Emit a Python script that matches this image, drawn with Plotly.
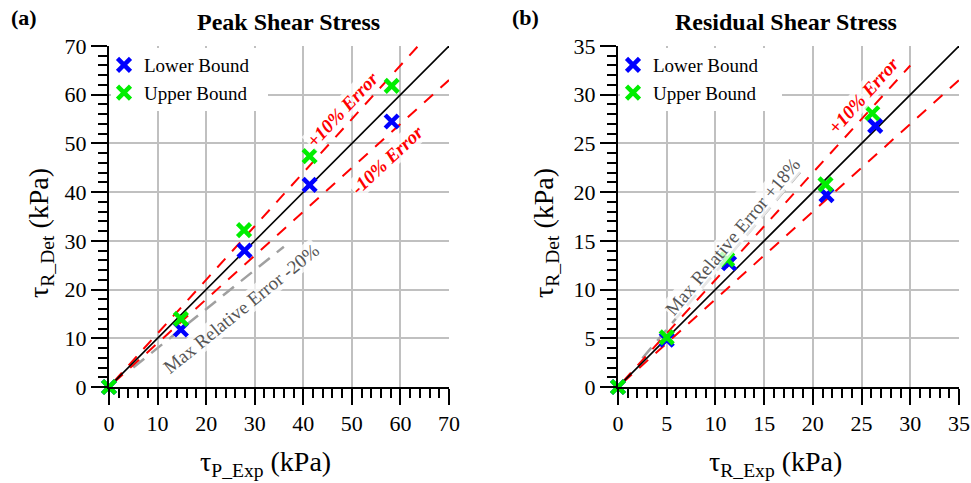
import plotly.graph_objects as go

# Peak shear stress (kPa): experimental vs determined
peak_exp_lower = [0, 14.8, 27.9, 41.3, 58.2]
peak_det_lower = [0, 11.8, 28.0, 41.5, 54.5]
peak_exp_upper = [0, 14.8, 27.8, 41.3, 58.2]
peak_det_upper = [0, 14.0, 32.2, 47.4, 61.8]

# Residual shear stress (kPa): experimental vs determined
res_exp_lower = [0, 5.0, 11.4, 21.4, 26.4]
res_det_lower = [0, 4.85, 12.7, 19.7, 26.8]
res_exp_upper = [0, 5.0, 11.2, 21.3, 26.1]
res_det_upper = [0, 5.1, 13.1, 20.8, 28.1]

# Reference lines: (slope, x start, x end)
peak_lines = {"one": (1.0, 0, 70), "plus10": (1.1, 1, 63.6), "minus10": (0.9, 1, 70), "maxerr": (0.8, 5, 36)}
res_lines = {"one": (1.0, 0, 35), "plus10": (1.1, 0.5, 30), "minus10": (0.9, 0.5, 35), "maxerr": (1.18, 2.5, 19)}

SERIF = "Liberation Serif"
BLUE = "#0000ff"
GREEN = "#00ee00"

W, H = 971, 483
LEFT_A, RIGHT_A, LEFT_B, RIGHT_B = 109, 449, 618, 959
TOP, BOTTOM = 46, 387
MAJOR_LEN, MINOR_LEN = 16, 9

fig = go.Figure()


def add_panel(xa, ya, lines, lower, upper, legend_name):
    styles = {
        "maxerr": dict(color="#a0a0a0", width=2.5, dash="14px,9px"),
        "plus10": dict(color="#ff0000", width=2, dash="12px,10px"),
        "minus10": dict(color="#ff0000", width=2, dash="12px,10px"),
        "one": dict(color="black", width=1.6),
    }
    for key in ["maxerr", "plus10", "minus10", "one"]:
        s, x0, x1 = lines[key]
        fig.add_trace(go.Scatter(x=[x0, x1], y=[s * x0, s * x1], mode="lines",
                                 line=styles[key], showlegend=False, hoverinfo="skip",
                                 xaxis=xa, yaxis=ya))
    for (xs, ys), name, col in [(lower, "Lower Bound", BLUE), (upper, "Upper Bound", GREEN)]:
        fig.add_trace(go.Scatter(x=xs, y=ys, mode="markers", name=name,
                                 marker=dict(symbol="x-thin", size=13,
                                             line=dict(color=col, width=4.5)),
                                 cliponaxis=False, showlegend=True, legend=legend_name,
                                 xaxis=xa, yaxis=ya))


add_panel("x", "y", peak_lines, (peak_exp_lower, peak_det_lower), (peak_exp_upper, peak_det_upper), "legend")
add_panel("x2", "y2", res_lines, (res_exp_lower, res_det_lower), (res_exp_upper, res_det_upper), "legend2")


def px_x(p):
    return p / W


def px_y(p):
    return 1 - p / H


def axis(domain, rng, dt, mdt, anchor):
    return dict(
        domain=domain, range=rng, dtick=dt, tick0=0, anchor=anchor,
        automargin=False, fixedrange=True,
        showline=True, linecolor="black", linewidth=2,
        ticks="outside", ticklen=MAJOR_LEN, tickwidth=2, tickcolor="black",
        showgrid=True, gridcolor="#c0c0c0", gridwidth=2,
        zeroline=False, tickfont=dict(family=SERIF, size=22, color="black"),
        minor=dict(dtick=mdt, tick0=0, ticks="outside", ticklen=MINOR_LEN, tickwidth=2,
                   tickcolor="black", showgrid=False),
    )


fig.update_layout(
    width=W, height=H,
    margin=dict(l=0, r=0, t=0, b=0, pad=0, autoexpand=False),
    paper_bgcolor="white", plot_bgcolor="white",
    font=dict(family=SERIF, color="black"),
    dragmode=False,
    xaxis=axis([px_x(LEFT_A), px_x(RIGHT_A)], [0, 70], 10, 2, "y"),
    yaxis=axis([px_y(BOTTOM), px_y(TOP)], [0, 70], 10, 2, "x"),
    xaxis2=axis([px_x(LEFT_B), px_x(RIGHT_B)], [0, 35], 5, 1, "y2"),
    yaxis2=axis([px_y(BOTTOM), px_y(TOP)], [0, 35], 5, 1, "x2"),
    legend=dict(x=px_x(104), y=px_y(46), xanchor="left", yanchor="top",
                bgcolor="rgba(0,0,0,0)", font=dict(family=SERIF, size=19, color="black"),
                tracegroupgap=0, itemwidth=30),
    legend2=dict(x=px_x(613), y=px_y(46), xanchor="left", yanchor="top",
                 bgcolor="rgba(0,0,0,0)", font=dict(family=SERIF, size=19, color="black"),
                 tracegroupgap=0, itemwidth=30),
)

# White backing behind each legend so gridlines do not run through it
for x0, x1 in [(111, 268), (620, 782)]:
    fig.add_shape(type="rect", xref="paper", yref="paper",
                  x0=px_x(x0), x1=px_x(x1), y0=px_y(111), y1=px_y(48),
                  fillcolor="white", line=dict(width=0), layer="above")

ann = []
# Panel labels and titles
ann.append(dict(text="<b>(a)</b>", x=px_x(9), y=px_y(18), xanchor="left", yanchor="middle",
                font=dict(size=22)))
ann.append(dict(text="<b>(b)</b>", x=px_x(510), y=px_y(18), xanchor="left", yanchor="middle",
                font=dict(size=22)))
ann.append(dict(text="<b>Peak Shear Stress</b>", x=px_x(288), y=px_y(22), xanchor="center", yanchor="middle",
                font=dict(size=24)))
ann.append(dict(text="<b>Residual Shear Stress</b>", x=px_x(786), y=px_y(22), xanchor="center", yanchor="middle",
                font=dict(size=24)))
# Axis titles
ann.append(dict(text="τ<sub>P_Exp</sub> (kPa)", x=px_x(265), y=px_y(463), xanchor="center", yanchor="middle",
                font=dict(size=28)))
ann.append(dict(text="τ<sub>R_Exp</sub> (kPa)", x=px_x(775), y=px_y(463), xanchor="center", yanchor="middle",
                font=dict(size=28)))
ann.append(dict(text="τ<sub>R_Det</sub> (kPa)", x=px_x(40), y=px_y(233), xanchor="center", yanchor="middle",
                textangle=-90, font=dict(size=28)))
ann.append(dict(text="τ<sub>R_Det</sub> (kPa)", x=px_x(545), y=px_y(233), xanchor="center", yanchor="middle",
                textangle=-90, font=dict(size=28)))
for a in ann:
    a.update(xref="paper", yref="paper", showarrow=False)
    a["font"].update(family=SERIF, color="black")

# Line labels placed in data coordinates
line_labels = [
    ("x", "y", 48.1, 56.9, "<b><i>+10% Error</i></b>", "#ff0000", -47),
    ("x", "y", 57.4, 46.6, "<b><i>-10% Error</i></b>", "#ff0000", -43),
    ("x", "y", 27.2, 16.2, "Max Relative Error -20%", "#555555", -39),
    ("x2", "y2", 25.2, 29.9, "<b><i>+10% Error</i></b>", "#ff0000", -48),
    ("x2", "y2", 11.8, 15.4, "Max Relative Error +18%", "#555555", -50),
]
for xr, yr, x, y, t, c, ang in line_labels:
    ann.append(dict(text=t, x=x, y=y, xref=xr, yref=yr, showarrow=False, textangle=ang,
                    bgcolor="rgba(255,255,255,0.75)", borderpad=0,
                    font=dict(family=SERIF, size=19, color=c)))

fig.update_layout(annotations=ann)

# A static page: no drag handles are laid over the axes
fig.write_html("out.html", config={"staticPlot": True})
